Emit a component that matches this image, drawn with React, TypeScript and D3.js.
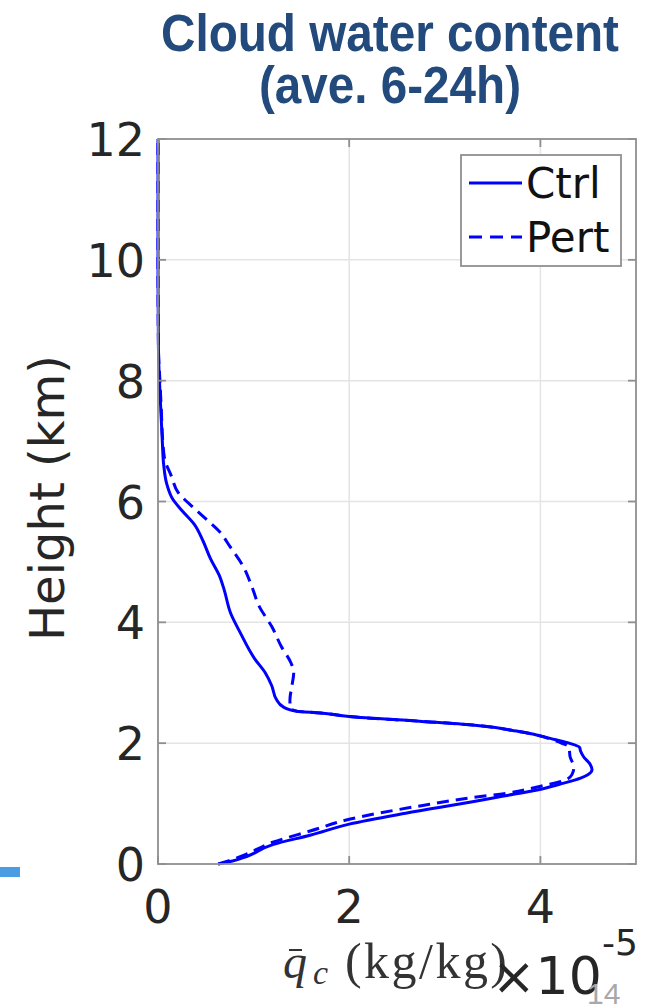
import React from "react";
import * as d3 from "d3";

// Values: [qc (×1e-5 kg/kg), height (km)], ascending in height
const ctrlQc = [0.63, 0.78, 0.92, 1.2, 1.6, 2.0, 2.59, 3.29, 3.6, 3.98, 4.2, 4.42, 4.5, 4.54, 4.52, 4.45, 4.42, 4.41, 4.3, 4.15, 4.0, 3.75, 3.29, 2.76, 2.0, 1.7, 1.45, 1.31, 1.24, 1.19, 1.12, 1.01, 0.86, 0.76, 0.69, 0.64, 0.55, 0.47, 0.38, 0.25, 0.15, 0.09, 0.06, 0.045, 0.03, 0.015, 0.005, 0.0, 0.0];
const ctrlZ = [0.0, 0.05, 0.12, 0.32, 0.48, 0.66, 0.84, 1.03, 1.12, 1.23, 1.32, 1.42, 1.48, 1.56, 1.65, 1.78, 1.87, 1.93, 2.0, 2.06, 2.12, 2.2, 2.3, 2.36, 2.44, 2.5, 2.53, 2.6, 2.72, 2.95, 3.17, 3.4, 3.83, 4.15, 4.55, 4.78, 5.05, 5.35, 5.62, 5.85, 6.05, 6.3, 6.6, 7.0, 7.5, 8.0, 8.5, 10.0, 12.0];

const pertQc = [0.63, 0.75, 0.92, 1.2, 1.6, 2.0, 2.77, 3.29, 3.64, 3.98, 4.26, 4.33, 4.35, 4.31, 4.3, 4.22, 4.1, 4.0, 3.75, 3.29, 2.76, 2.0, 1.7, 1.45, 1.38, 1.38, 1.4, 1.42, 1.39, 1.29, 1.19, 1.06, 0.98, 0.89, 0.75, 0.65, 0.51, 0.37, 0.21, 0.14, 0.07, 0.05, 0.035, 0.02, 0.005, 0.0, 0.0];
const pertZ = [0.0, 0.06, 0.16, 0.36, 0.55, 0.74, 0.97, 1.1, 1.17, 1.28, 1.39, 1.48, 1.6, 1.78, 1.94, 2.0, 2.07, 2.12, 2.2, 2.3, 2.36, 2.44, 2.5, 2.53, 2.59, 2.72, 2.94, 3.17, 3.33, 3.6, 3.93, 4.26, 4.6, 4.93, 5.26, 5.49, 5.7, 5.9, 6.15, 6.42, 6.7, 7.0, 7.5, 8.0, 8.5, 10.0, 12.0];

const xTicks = [0, 2, 4];
const yTicks = [0, 2, 4, 6, 8, 10, 12];
const seriesNames = ["Ctrl", "Pert"];

export default function App() {
  const W = 646, H = 1006;
  const x = d3.scaleLinear().domain([0, 5]).range([158, 636]);
  const y = d3.scaleLinear().domain([0, 12]).range([864, 139]);
  const line = d3
    .line<[number, number]>()
    .x((d) => x(d[0]))
    .y((d) => y(d[1]))
    .curve(d3.curveMonotoneY);
  const ctrl = ctrlQc.map((v, i) => [v, ctrlZ[i]] as [number, number]);
  const pert = pertQc.map((v, i) => [v, pertZ[i]] as [number, number]);
  const [x0, x1] = x.range();
  const [y0, y1] = y.range();
  const axisCol = "#8f8f8f";
  const gridCol = "#e4e4e4";
  const tickLen = 8;
  const sans = "DejaVu Sans, sans-serif";
  const serif = "Liberation Serif, Times New Roman, serif";

  return (
    <svg width={W} height={H} style={{ position: "absolute", left: 0, top: 0, background: "#fff" }}>
      <rect x={0} y={0} width={W} height={H} fill="#fff" />
      {/* Title */}
      <g fill="#224a7c" fontFamily="Liberation Sans, Arial, sans-serif" fontWeight="bold" fontSize={51} textAnchor="middle">
        <text x={390} y={51} textLength={458} lengthAdjust="spacingAndGlyphs">Cloud water content</text>
        <text x={390} y={103} textLength={262} lengthAdjust="spacingAndGlyphs">(ave. 6-24h)</text>
      </g>

      {/* grid */}
      {xTicks.filter((t) => t > 0).map((t) => (
        <line key={"gx" + t} x1={x(t)} x2={x(t)} y1={y0} y2={y1} stroke={gridCol} strokeWidth={1.5} />
      ))}
      {yTicks.filter((t) => t > 0 && t < 12).map((t) => (
        <line key={"gy" + t} x1={x0} x2={x1} y1={y(t)} y2={y(t)} stroke={gridCol} strokeWidth={1.5} />
      ))}

      {/* data */}
      <path d={line(pert) || ""} fill="none" stroke="#0000ff" strokeWidth={3} strokeDasharray="12,7" />
      <path d={line(ctrl) || ""} fill="none" stroke="#0000ff" strokeWidth={3} />

      {/* box */}
      <rect x={x0} y={y1} width={x1 - x0} height={y0 - y1} fill="none" stroke={axisCol} strokeWidth={1.8} />
      {xTicks.map((t) => (
        <g key={"tx" + t}>
          <line x1={x(t)} x2={x(t)} y1={y0} y2={y0 - tickLen} stroke={axisCol} strokeWidth={1.8} />
          <line x1={x(t)} x2={x(t)} y1={y1} y2={y1 + tickLen} stroke={axisCol} strokeWidth={1.8} />
        </g>
      ))}
      {yTicks.map((t) => (
        <g key={"ty" + t}>
          <line x1={x0} x2={x0 + tickLen} y1={y(t)} y2={y(t)} stroke={axisCol} strokeWidth={1.8} />
          <line x1={x1} x2={x1 - tickLen} y1={y(t)} y2={y(t)} stroke={axisCol} strokeWidth={1.8} />
        </g>
      ))}

      {/* tick labels */}
      <g fontFamily={sans} fontSize={46} fill="#262626">
        {yTicks.map((t) => (
          <text key={"ly" + t} x={145} y={y(t) + 17} textAnchor="end">{t}</text>
        ))}
        {xTicks.map((t) => (
          <text key={"lx" + t} x={x(t)} y={923} textAnchor="middle">{t}</text>
        ))}
      </g>

      {/* y label */}
      <text transform="translate(64,498) rotate(-90)" fontFamily={sans} fontSize={48} fill="#262626" textAnchor="middle">
        Height (km)
      </text>

      {/* x label (TeX style) */}
      <g fill="#333" fontFamily={serif}>
        <line x1={289} x2={302} y1={950} y2={950} stroke="#333" strokeWidth={2} />
        <text x={283} y={978} fontSize={48} fontStyle="italic">q</text>
        <text x={313} y={984} fontSize={34} fontStyle="italic">c</text>
        <text x={345} y={978} fontSize={50} textLength={162} lengthAdjust="spacing">(kg/kg)</text>
      </g>
      <g fontFamily={sans} fill="#262626">
        <text x={492} y={994} fontSize={52}>×10</text>
        <text x={602} y={955} fontSize={36}>-5</text>
      </g>

      {/* legend */}
      <rect x={461} y={155} width={160} height={111} fill="#fff" stroke={axisCol} strokeWidth={1.8} />
      <line x1={469} x2={522} y1={183} y2={183} stroke="#0000ff" strokeWidth={3} />
      <line x1={469} x2={522} y1={237} y2={237} stroke="#0000ff" strokeWidth={3} strokeDasharray="13,8" />
      <g fontFamily={sans} fontSize={42} fill="#111">
        <text x={526} y={198}>{seriesNames[0]}</text>
        <text x={526} y={252}>{seriesNames[1]}</text>
      </g>

      {/* slide decorations */}
      <rect x={0} y={867} width={20} height={10} fill="#4a9de2" />
      <text x={587} y={1004} fontFamily="Liberation Sans, Arial, sans-serif" fontSize={30} fill="#a8a8a8">14</text>
    </svg>
  );
}
